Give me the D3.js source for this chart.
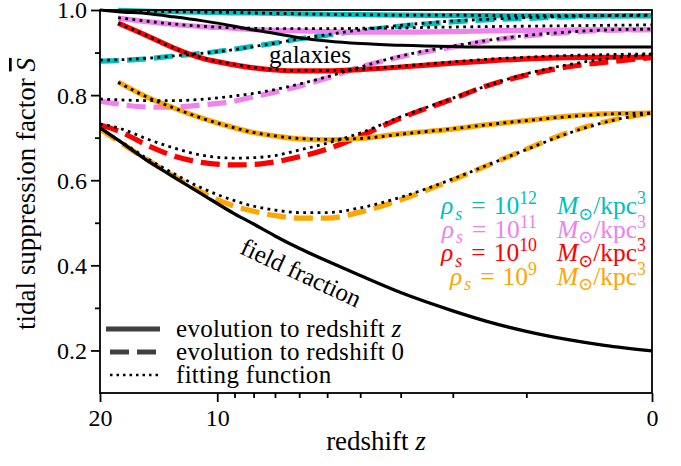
<!DOCTYPE html>
<html><head><meta charset="utf-8">
<script src="https://cdn.jsdelivr.net/npm/d3@7"></script>
<style>
body{margin:0;background:#fff}
svg{display:block}
svg text{font-family:"Liberation Serif","DejaVu Serif",serif !important}
</style>
</head><body>
<svg id="c" width="681" height="466"></svg>
<script>
// ---------------- data ----------------
const zNodes = [20,18,15,13,11,9,8,7,6,5,4,3,2,1.5,1,0.6,0.3,0];

const galaxies = [1.000,0.996,0.991,0.984,0.975,0.962,0.953,0.945,0.935,0.927,0.921,0.917,0.914,0.913,0.913,0.913,0.913,0.913];
const fieldFraction = [0.723,0.694,0.643,0.608,0.568,0.521,0.497,0.469,0.440,0.410,0.376,0.336,0.293,0.269,0.245,0.226,0.212,0.199];

const rho12ToZ   = [null,0.999,0.997,0.996,0.995,0.993,0.993,0.992,0.991,0.990,0.989,0.988,0.987,0.987,0.986,0.986,0.986,0.986];
const rho12To0   = [0.880,0.881,0.886,0.892,0.898,0.908,0.915,0.922,0.932,0.941,0.951,0.962,0.972,0.977,0.980,0.984,0.986,0.987];
const rho12FitZ  = [null,0.999,0.997,0.996,0.995,0.994,0.993,0.992,0.991,0.990,0.989,0.988,0.988,0.987,0.987,0.987,0.987,0.987];
const rho12Fit0  = [0.882,0.883,0.887,0.892,0.898,0.907,0.914,0.922,0.932,0.942,0.953,0.964,0.974,0.978,0.982,0.985,0.987,0.988];

const rho11ToZ   = [null,0.981,0.972,0.966,0.961,0.957,0.954,0.952,0.951,0.949,0.948,0.948,0.949,0.951,0.952,0.953,0.954,0.954];
const rho11To0   = [0.786,0.779,0.772,0.772,0.777,0.786,0.796,0.807,0.821,0.840,0.866,0.890,0.913,0.927,0.939,0.947,0.952,0.954];
const rho11FitZ  = [null,0.982,0.973,0.967,0.962,0.958,0.957,0.956,0.956,0.956,0.957,0.958,0.960,0.961,0.962,0.963,0.964,0.965];
const rho11Fit0  = [0.791,0.789,0.787,0.787,0.790,0.798,0.804,0.813,0.826,0.843,0.866,0.892,0.915,0.928,0.940,0.948,0.953,0.955];

const rho10ToZ   = [null,0.969,0.937,0.911,0.887,0.871,0.864,0.859,0.857,0.857,0.860,0.866,0.875,0.880,0.885,0.888,0.889,0.889];
const rho10To0   = [0.730,0.716,0.680,0.657,0.642,0.636,0.637,0.643,0.655,0.673,0.704,0.746,0.791,0.821,0.847,0.866,0.877,0.888];
const rho10FitZ  = [null,0.969,0.937,0.911,0.888,0.872,0.865,0.860,0.858,0.858,0.861,0.868,0.878,0.884,0.889,0.893,0.895,0.897];
const rho10Fit0  = [0.732,0.723,0.695,0.676,0.659,0.652,0.653,0.658,0.671,0.687,0.711,0.749,0.793,0.821,0.850,0.871,0.885,0.896];

const rho9ToZ    = [null,0.831,0.793,0.770,0.746,0.723,0.712,0.704,0.697,0.695,0.698,0.709,0.720,0.730,0.740,0.750,0.756,0.758];
const rho9To0    = [0.720,0.692,0.645,0.610,0.572,0.539,0.527,0.517,0.511,0.511,0.525,0.554,0.601,0.633,0.673,0.711,0.737,0.758];
const rho9FitZ   = [null,0.830,0.793,0.770,0.746,0.723,0.712,0.704,0.698,0.696,0.698,0.708,0.721,0.730,0.740,0.749,0.755,0.758];
const rho9Fit0   = [0.722,0.695,0.648,0.616,0.582,0.552,0.539,0.530,0.524,0.524,0.535,0.560,0.603,0.634,0.672,0.709,0.736,0.758];

const densityExponents = ["12","11","10","9"];
const majorZTicks = [20,10,0];
const minorZTicks = [9,8,7,6,5,4,3,2,1];
const majorSTicks = [0.2,0.4,0.6,0.8,1.0];
const minorSTicks = [0.3,0.5,0.7,0.9];

// ---------------- setup ----------------
const FONT = '"Liberation Serif","DejaVu Serif",serif';
const svg = d3.select("#c");
const L = 100, R = 652, T = 10, B = 393;
const x = d3.scaleLog().domain([21,1]).range([L,R]);
const y = d3.scaleLinear().domain([0.1,1.0]).range([B,T]);

const series = [
  {color:"#00bfbf", toZ:rho12ToZ, to0:rho12To0, fitZ:rho12FitZ, fit0:rho12Fit0},
  {color:"#ee82ee", toZ:rho11ToZ, to0:rho11To0, fitZ:rho11FitZ, fit0:rho11Fit0},
  {color:"#ff0000", toZ:rho10ToZ, to0:rho10To0, fitZ:rho10FitZ, fit0:rho10Fit0},
  {color:"#ffa500", toZ:rho9ToZ,  to0:rho9To0,  fitZ:rho9FitZ,  fit0:rho9Fit0}
];

const line = d3.line()
  .defined(d => d[1] != null)
  .x(d => x(1 + d[0]))
  .y(d => y(d[1]))
  .curve(d3.curveMonotoneX);
const pts = arr => zNodes.map((z,i) => [z, arr[i]]);

const plot = svg.append("g");
plot.append("defs").append("clipPath").attr("id","clip")
  .append("rect").attr("x",L).attr("y",T-3).attr("width",R-L).attr("height",B-T+3);
const g = plot.append("g").attr("clip-path","url(#clip)");

const LW = 5.2;
series.forEach(s => {
  g.append("path").attr("d", line(pts(s.toZ))).attr("fill","none")
    .attr("stroke", s.color).attr("stroke-width", LW);
  g.append("path").attr("d", line(pts(s.to0))).attr("fill","none")
    .attr("stroke", s.color).attr("stroke-width", LW).attr("stroke-dasharray","19,8");
});
g.append("path").attr("d", line(pts(galaxies))).attr("fill","none")
  .attr("stroke","#000").attr("stroke-width",3);
g.append("path").attr("d", line(pts(fieldFraction))).attr("fill","none")
  .attr("stroke","#000").attr("stroke-width",3.3);
series.forEach(s => {
  [s.fitZ, s.fit0].forEach(f => {
    g.append("path").attr("d", line(pts(f))).attr("fill","none")
      .attr("stroke","#000").attr("stroke-width",2.8).attr("stroke-dasharray","2.8,4.4");
  });
});

// ---------------- axes ----------------
const axG = svg.append("g");
const bottom = axG.append("g").attr("transform",`translate(0,${B})`)
  .call(d3.axisBottom(x).tickValues(majorZTicks.map(z=>1+z)).tickFormat(d => String(Math.round(d-1))).tickSize(9).tickPadding(6));
axG.append("g").attr("transform",`translate(0,${B})`)
  .call(d3.axisBottom(x).tickValues(minorZTicks.map(z=>1+z)).tickFormat("").tickSize(5));
const left = axG.append("g").attr("transform",`translate(${L},0)`)
  .call(d3.axisLeft(y).tickValues(majorSTicks).tickFormat(d3.format(".1f")).tickSize(9).tickPadding(4));
axG.append("g").attr("transform",`translate(${L},0)`)
  .call(d3.axisLeft(y).tickValues(minorSTicks).tickFormat("").tickSize(5));
axG.selectAll("g").attr("font-family", FONT);
axG.selectAll(".domain").remove();
axG.selectAll(".tick line").attr("stroke","#000").attr("stroke-width",1.8);
axG.selectAll(".tick text").attr("font-family", FONT).style("font-size","24px").attr("fill","#000");
bottom.selectAll(".tick text").attr("dy","0.75em");
left.selectAll(".tick text").attr("dy","0.33em");

svg.append("rect").attr("x",L).attr("y",T).attr("width",R-L).attr("height",B-T)
  .attr("fill","none").attr("stroke","#000").attr("stroke-width",1.8);

// axis labels
const xl = svg.append("text").attr("x",(L+R)/2).attr("y",450).attr("text-anchor","middle")
  .attr("font-family", FONT).style("font-size","27px");
xl.append("tspan").text("redshift ");
xl.append("tspan").attr("font-style","italic").text("z");

const yl = svg.append("text").attr("transform","translate(35,194) rotate(-90)")
  .attr("text-anchor","middle").attr("font-family", FONT).style("font-size","27px");
yl.append("tspan").text("tidal suppression factor ");
yl.append("tspan").attr("font-style","italic").attr("text-decoration","overline").text("S");

// annotations
svg.append("text").attr("x",310).attr("y",63).attr("text-anchor","middle")
  .attr("font-family", FONT).style("font-size","25px").text("galaxies");
svg.append("text").attr("transform","translate(300,275) rotate(25)")
  .attr("text-anchor","middle").attr("y",6).attr("font-family", FONT).style("font-size","25px").text("field fraction");

// density labels: each piece is its own text, laid out right-to-left from the right edge
function mathLabel(xRight, yBase, parts, fs, color){
  const grp = svg.append("g");
  const made = parts.map(p => {
    const f = (p.sub || p.sup) ? fs*0.7 : fs;
    const t = grp.append("text").attr("font-family", FONT).style("font-size", f+"px")
      .style("fill", color).text(p.t);
    if (p.it) t.attr("font-style","italic");
    return {node:t, p, w:t.node().getComputedTextLength()};
  });
  let xc = xRight;
  for (let i = made.length-1; i >= 0; i--) {
    const m = made[i];
    xc -= m.w;
    const dy = m.p.sub ? fs*0.22 : m.p.sup ? -fs*0.38 : 0;
    m.node.attr("x", xc).attr("y", yBase + dy);
    xc -= (m.p.gap || 0);
  }
}
const labelBase = [214, 237.5, 261, 284.5];
series.forEach((s,i) => {
  mathLabel(646, labelBase[i], [
    {t:"ρ", it:true, gap:0.5},
    {t:"s", it:true, sub:true, gap:2},
    {t:"=", gap:9},
    {t:"10", gap:8},
    {t:densityExponents[i], sup:true},
    {t:"M", it:true, gap:20},
    {t:"⊙", sub:true},
    {t:"/kpc"},
    {t:"3", sup:true}
  ], 25.5, s.color);
});

// legend
const legendRows = [
  {y:329, stroke:"#404040", w:5.2, dash:null, label:["evolution to redshift ", "z"]},
  {y:352, stroke:"#404040", w:5.2, dash:"19,8", label:["evolution to redshift 0", null]},
  {y:375, stroke:"#000", w:2.5, dash:"2.5,4", label:["fitting function", null]}
];
legendRows.forEach(r => {
  const l = svg.append("line").attr("x1",106).attr("x2",160).attr("y1",r.y).attr("y2",r.y)
    .attr("stroke",r.stroke).attr("stroke-width",r.w);
  if (r.dash) l.attr("stroke-dasharray",r.dash).attr("stroke-dashoffset",-4);
  const t = svg.append("text").attr("x",176).attr("y",r.y+8).attr("font-family", FONT)
    .style("font-size","25px").style("letter-spacing","0.3px");
  t.append("tspan").text(r.label[0]);
  if (r.label[1]) t.append("tspan").attr("font-style","italic").text(r.label[1]);
});
</script>
</body></html>
